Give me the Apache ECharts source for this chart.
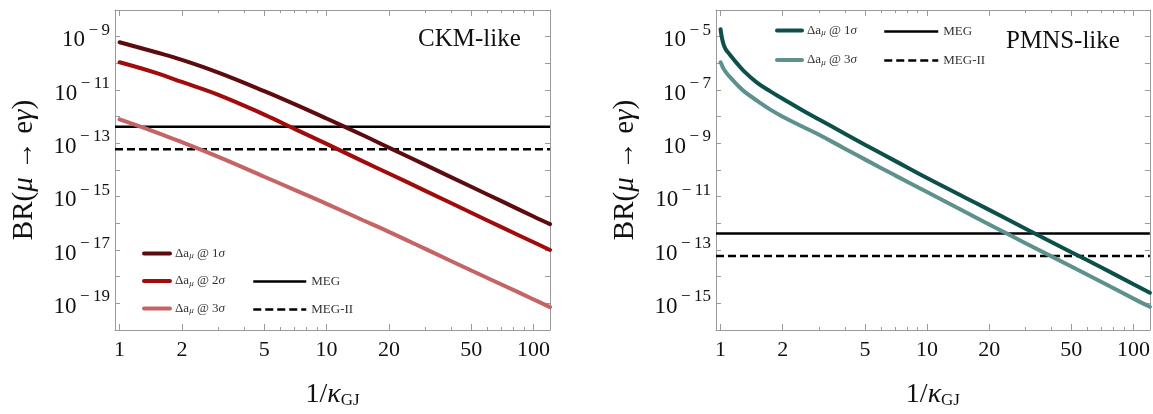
<!DOCTYPE html>
<html>
<head>
<meta charset="utf-8">
<script src="https://cdn.jsdelivr.net/npm/echarts@6/dist/echarts.min.js"></script>
<style>
  html, body { margin: 0; padding: 0; background: #fff; }
  #chart { width: 1153px; height: 414px; }
</style>
</head>
<body>
<div id="chart"></div>
<script>
// x values (1/kappa_GJ)
const xCKM = [1, 1.5, 2, 3, 5, 7, 10, 15, 20, 30, 50, 70, 100, 120];
const xPMNS = [1, 1.01, 1.03, 1.06, 1.1, 1.2, 1.3, 1.5, 1.75, 2, 2.5, 3, 4, 5, 7, 10, 15, 20, 30, 50, 70, 100, 120];

// BR(mu -> e gamma), CKM-like
const ckm1sigma = [6.2e-10, 2.6e-10, 1.35e-10, 4.5e-11, 9.1e-12, 2.95e-12, 8.5e-13, 2.0e-13, 6.9e-14, 1.55e-14, 2.35e-15, 6.8e-16, 1.8e-16, 9.3e-17];
const ckm2sigma = [1.1e-10, 4.4e-11, 2.0e-11, 6.6e-12, 1.2e-12, 3.5e-13, 9.5e-14, 2.1e-14, 7.4e-15, 1.65e-15, 2.5e-16, 7.2e-17, 1.95e-17, 1.0e-17];
const ckm3sigma = [7.9e-13, 2.6e-13, 1.1e-13, 3.1e-14, 5.6e-15, 1.8e-15, 5.4e-16, 1.3e-16, 4.8e-17, 1.1e-17, 1.7e-18, 5.1e-19, 1.4e-19, 7.2e-20];

// BR(mu -> e gamma), PMNS-like
const pmns1sigma = [1.9e-5, 1.1e-5, 5.6e-6, 3.3e-6, 2.3e-6, 1.0e-6, 5.0e-7, 1.9e-7, 8.7e-8, 4.7e-8, 1.7e-8, 7.8e-9, 2.3e-9, 8.9e-10, 2.2e-10, 5.0e-11, 1.0e-11, 3.2e-12, 6.3e-13, 8.3e-14, 2.2e-14, 5.2e-15, 2.5e-15];
const pmns3sigma = [1.1e-6, 9.3e-7, 6.6e-7, 4.7e-7, 3.3e-7, 1.6e-7, 8.9e-8, 4.0e-8, 1.8e-8, 1.0e-8, 4.2e-9, 2.1e-9, 6.3e-10, 2.5e-10, 6.3e-11, 1.5e-11, 2.9e-12, 9.1e-13, 1.8e-13, 2.4e-14, 6.3e-15, 1.5e-15, 7.4e-16];

// experimental limits
const megLimit = 4.2e-13;
const meg2Limit = 6.0e-14;

// axes
const xRange = [0.95, 120];
const xMajorTicks = [1, 2, 5, 10, 20, 50, 100];
const xMinorTicks = [3, 4, 6, 7, 8, 9, 30, 40, 60, 70, 80, 90];
const ckmYRange = [1e-20, 1e-8];
const ckmYLabels = [1e-19, 1e-17, 1e-15, 1e-13, 1e-11, 1e-9];
const ckmYTicks = [1e-20, 1e-19, 1e-18, 1e-17, 1e-16, 1e-15, 1e-14, 1e-13, 1e-12, 1e-11, 1e-10, 1e-9, 1e-8];
const pmnsYRange = [1e-16, 1e-4];
const pmnsYLabels = [1e-15, 1e-13, 1e-11, 1e-9, 1e-7, 1e-5];
const pmnsYTicks = [1e-16, 1e-15, 1e-14, 1e-13, 1e-12, 1e-11, 1e-10, 1e-9, 1e-8, 1e-7, 1e-6, 1e-5, 1e-4];

const FONT = "'Liberation Serif', 'DejaVu Serif', serif";
const FRAME = '#9a9a9a';

const legendText = {
  ckm1: '{n|Δa}{sub|μ}{n| @ 1}{i|σ}',
  ckm2: '{n|Δa}{sub|μ}{n| @ 2}{i|σ}',
  ckm3: '{n|Δa}{sub|μ}{n| @ 3}{i|σ}',
  pmns1: '{n|Δa}{sub|μ}{n| @ 1}{i|σ}',
  pmns3: '{n|Δa}{sub|μ}{n| @ 3}{i|σ}',
  megL: '{n|MEG}', meg2L: '{n|MEG-II}',
  megR: '{n|MEG}', meg2R: '{n|MEG-II}'
};

function pairs(xs, ys) {
  return xs.map((x, i) => [x, ys[i]]);
}

function fmtX(v) {
  return String(Number(v.toPrecision(6)));
}

function fmtY(v) {
  const e = Math.round(Math.log10(v));
  return '{b|10}{s|' + (e < 0 ? '\u2009\u2212\u2009' : '') + Math.abs(e) + '}';
}

function xAxes(grid) {
  const base = {
    type: 'log', gridIndex: grid, min: xRange[0], max: xRange[1],
    splitLine: { show: false },
    axisLine: { show: true, lineStyle: { color: FRAME, width: 1 } }
  };
  return [
    Object.assign({}, base, {
      position: 'bottom',
      name: '{a|1/}{k|κ}{sub|GJ}', nameLocation: 'middle', nameGap: 47,
      nameTextStyle: {
        fontFamily: FONT, color: '#111',
        rich: {
          a: { fontSize: 28, fontFamily: FONT, color: '#111', verticalAlign: 'bottom', lineHeight: 32 },
          k: { fontSize: 28, fontFamily: FONT, fontStyle: 'italic', color: '#111', verticalAlign: 'bottom', lineHeight: 32 },
          sub: { fontSize: 17, fontFamily: FONT, color: '#111', verticalAlign: 'bottom', lineHeight: 24 }
        }
      },
      axisTick: { show: true, inside: true, length: 6, customValues: xMajorTicks, lineStyle: { color: FRAME } },
      axisLabel: { show: true, customValues: xMajorTicks, formatter: fmtX, margin: 9, fontFamily: FONT, fontSize: 22, color: '#111' }
    }),
    Object.assign({}, base, {
      position: 'bottom',
      axisLine: { show: false },
      axisTick: { show: true, inside: true, length: 3, customValues: xMinorTicks, lineStyle: { color: FRAME } },
      axisLabel: { show: false }
    }),
    Object.assign({}, base, {
      position: 'top',
      axisTick: { show: true, inside: true, length: 6, customValues: xMajorTicks, lineStyle: { color: FRAME } },
      axisLabel: { show: false }
    }),
    Object.assign({}, base, {
      position: 'top',
      axisLine: { show: false },
      axisTick: { show: true, inside: true, length: 3, customValues: xMinorTicks, lineStyle: { color: FRAME } },
      axisLabel: { show: false }
    })
  ];
}

function yAxes(grid, range, labels, ticks) {
  const base = {
    type: 'log', gridIndex: grid, min: range[0], max: range[1],
    splitLine: { show: false },
    axisLine: { show: true, lineStyle: { color: FRAME, width: 1 } },
    axisTick: { show: true, inside: true, length: 5, customValues: ticks, lineStyle: { color: FRAME } }
  };
  return [
    Object.assign({}, base, {
      position: 'left',
      name: '{r|BR(}{i|μ}{r| \u2192 e}{i|γ}{r|)}', nameLocation: 'middle', nameGap: 76,
      nameTextStyle: {
        fontFamily: FONT, fontSize: 29, color: '#111',
        rich: {
          r: { fontFamily: FONT, fontSize: 29, color: '#111' },
          i: { fontFamily: FONT, fontSize: 29, fontStyle: 'italic', color: '#111' }
        }
      },
      axisLabel: {
        show: true, customValues: labels, formatter: fmtY, margin: 5, color: '#111',
        rich: {
          b: { fontFamily: FONT, fontSize: 23, color: '#111', verticalAlign: 'bottom', lineHeight: 30 },
          s: { fontFamily: FONT, fontSize: 17, color: '#111', verticalAlign: 'top', lineHeight: 30 }
        }
      }
    }),
    Object.assign({}, base, {
      position: 'right',
      axisLabel: { show: false }
    })
  ];
}

function curve(name, xs, ys, color, xi, yi) {
  return {
    name: name, type: 'line', xAxisIndex: xi, yAxisIndex: yi,
    data: pairs(xs, ys), symbol: 'none', smooth: 0.4,
    lineStyle: { color: color, width: 4, cap: 'round' },
    itemStyle: { color: color }, z: 3
  };
}

function limit(name, value, dashed, xi, yi) {
  return {
    name: name, type: 'line', xAxisIndex: xi, yAxisIndex: yi,
    data: [[xRange[0], value], [xRange[1], value]], symbol: 'none',
    lineStyle: { color: '#000', width: 2.5, type: dashed ? [8, 4] : 'solid' },
    itemStyle: { color: '#000' }, z: 2
  };
}

function legend(names, left, top, itemWidth, itemGap) {
  return {
    data: names, orient: 'vertical', left: left, top: top,
    itemWidth: itemWidth, itemHeight: 14, itemGap: itemGap,
    selectedMode: false,
    itemStyle: { opacity: 0 },
    lineStyle: { width: 'inherit' },
    formatter: name => legendText[name],
    textStyle: {
      rich: {
        n: { fontFamily: FONT, fontSize: 13, color: '#333', lineHeight: 14 },
        i: { fontFamily: FONT, fontSize: 13, fontStyle: 'italic', color: '#333', lineHeight: 14 },
        sub: { fontFamily: FONT, fontSize: 9, fontStyle: 'italic', color: '#333', verticalAlign: 'bottom', lineHeight: 14 }
      }
    }
  };
}

const chart = echarts.init(document.getElementById('chart'));

chart.setOption({
  animation: false,
  backgroundColor: '#fff',
  title: [
    { text: 'CKM-like', left: 413, top: 22, textStyle: { fontFamily: FONT, fontSize: 25, fontWeight: 'normal', color: '#111' } },
    { text: 'PMNS-like', left: 1001, top: 24, textStyle: { fontFamily: FONT, fontSize: 25, fontWeight: 'normal', color: '#111' } }
  ],
  grid: [
    { left: 115, top: 10, width: 435, height: 326 },
    { left: 716, top: 10, width: 435, height: 326 }
  ],
  xAxis: xAxes(0).concat(xAxes(1)),
  yAxis: yAxes(0, ckmYRange, ckmYLabels, ckmYTicks).concat(yAxes(1, pmnsYRange, pmnsYLabels, pmnsYTicks)),
  legend: [
    legend(['ckm1', 'ckm2', 'ckm3'], 137, 242, 26, 14),
    legend(['megL', 'meg2L'], 247, 270, 53, 15),
    legend(['pmns1', 'pmns3'], 770, 19, 25, 16),
    legend(['megR', 'meg2R'], 878, 20, 54, 16)
  ],
  series: [
    limit('megL', megLimit, false, 0, 0),
    limit('meg2L', meg2Limit, true, 0, 0),
    curve('ckm1', xCKM, ckm1sigma, '#5c0b0e', 0, 0),
    curve('ckm2', xCKM, ckm2sigma, '#a10b0b', 0, 0),
    curve('ckm3', xCKM, ckm3sigma, '#c46464', 0, 0),
    limit('megR', megLimit, false, 4, 2),
    limit('meg2R', meg2Limit, true, 4, 2),
    curve('pmns1', xPMNS, pmns1sigma, '#0c4f4b', 4, 2),
    curve('pmns3', xPMNS, pmns3sigma, '#5e918d', 4, 2)
  ]
});
</script>
</body>
</html>
